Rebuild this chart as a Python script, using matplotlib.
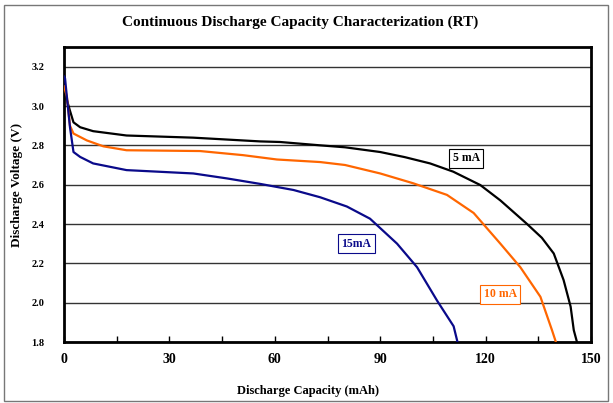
import matplotlib.pyplot as plt
from matplotlib.patches import Rectangle

# data (capacity in mAh, voltage in V)
cap_5ma = [0, 0.5, 1.7, 2.7, 4.6, 8.3, 17.8, 36.8, 55.8, 61.5, 72.9, 80, 90, 97, 104.2, 110.8,
           118.5, 124.2, 131.8, 136, 139.4, 142.2, 144.2, 145.1, 146]
volt_5ma = [3.13, 3.05, 2.976, 2.917, 2.892, 2.872, 2.85, 2.839, 2.82, 2.817, 2.80, 2.79, 2.766,
            2.74, 2.708, 2.666, 2.598, 2.52, 2.40, 2.33, 2.25, 2.115, 1.98, 1.86, 1.80]

cap_10ma = [0, 0.8, 1.7, 2.7, 6.5, 11.2, 17.8, 38.7, 51, 60.6, 72.9, 80, 90, 99.4, 109, 116.6,
            124.2, 129.9, 135.6, 138.9, 140]
volt_10ma = [3.10, 3.05, 2.90, 2.86, 2.825, 2.795, 2.775, 2.771, 2.75, 2.728, 2.715, 2.70, 2.657,
             2.607, 2.548, 2.456, 2.30, 2.18, 2.03, 1.86, 1.80]

cap_15ma = [0, 0.3, 0.8, 1.7, 2.7, 4.6, 8.3, 17.8, 36.8, 46.3, 55.8, 65.3, 72.9, 80.5, 87.1,
            94.8, 100.5, 106.2, 110.9, 112]
volt_15ma = [3.15, 3.14, 3.05, 2.892, 2.766, 2.741, 2.708, 2.674, 2.657, 2.632, 2.604, 2.573,
             2.536, 2.489, 2.427, 2.30, 2.18, 2.01, 1.88, 1.80]

x_ticks = [0, 30, 60, 90, 120, 150]
x_minor = [15, 45, 75, 105, 135]
y_ticks = [1.8, 2.0, 2.2, 2.4, 2.6, 2.8, 3.0, 3.2]

plt.rcParams['font.family'] = ['Liberation Serif', 'DejaVu Serif']
plt.rcParams['font.weight'] = 'bold'

fig = plt.figure(figsize=(6.13, 4.03), dpi=100)
ax = fig.add_axes([64 / 613, 1 - 342 / 403, (591 - 64) / 613, (342 - 47) / 403])

ax.plot(cap_5ma, volt_5ma, color='black', lw=1.6, zorder=3)
ax.plot(cap_10ma, volt_10ma, color='#ff6600', lw=1.6, zorder=3)
ax.plot(cap_15ma, volt_15ma, color='#0a0a8a', lw=1.6, zorder=3)

ax.set_xlim(0, 150)
ax.set_ylim(1.8, 3.3)
ax.set_xticks(x_ticks)
ax.set_xticks(x_minor, minor=True)
ax.set_yticks(y_ticks)
ax.set_yticklabels([f'{v:.1f}' for v in y_ticks], fontsize=7.5, fontweight='bold')
ax.set_xticklabels([str(v) for v in x_ticks], fontsize=10, fontweight='bold')
ax.tick_params(axis='x', which='both', direction='in', length=4, width=1, pad=8)
ax.tick_params(axis='y', length=0, pad=14)
ax.grid(axis='y', color='#333333', lw=1)
for s in ax.spines.values():
    s.set_linewidth(2)
    s.set_color('black')

ax.set_xlabel('Discharge Capacity (mAh)', fontsize=9, fontweight='bold')
ax.xaxis.set_label_coords((308 - 64) / 527, -(385 - 342) / 295)
ax.set_ylabel('Discharge Voltage (V)', fontsize=9.5, fontweight='bold')
ax.yaxis.set_label_coords(-(64 - 23) / 527, (342 - 185) / 295)
fig.text(300 / 613, 1 - 22 / 403, 'Continuous Discharge Capacity Characterization (RT)',
         ha='center', va='center', fontsize=11, fontweight='bold')

ax.text(114.5, 2.734, '5 mA', color='black', fontsize=8.5, fontweight='bold', ha='center',
        va='center', bbox=dict(boxstyle='square,pad=0.3', fc='white', ec='black', lw=0.8), zorder=4)
ax.text(83.2, 2.30, '15mA', color='#0a0a8a', fontsize=8.5, fontweight='bold', ha='center',
        va='center', bbox=dict(boxstyle='square,pad=0.3', fc='white', ec='#0a0a8a', lw=0.8), zorder=4)
ax.text(124.2, 2.043, '10 mA', color='#ff6600', fontsize=8.5, fontweight='bold', ha='center',
        va='center', bbox=dict(boxstyle='square,pad=0.3', fc='white', ec='#ff6600', lw=0.8), zorder=4)

fig.add_artist(Rectangle((4 / 613, 2 / 403), 604 / 613, 396 / 403, transform=fig.transFigure,
                         fill=False, ec='#777777', lw=1))

fig.savefig('out.png', dpi=100)
